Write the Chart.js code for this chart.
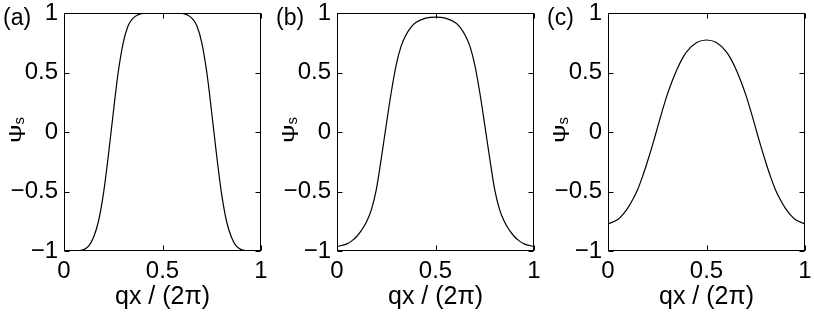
<!DOCTYPE html>
<html>
<head>
<meta charset="utf-8">
<script src="https://cdn.jsdelivr.net/npm/chart.js@4/dist/chart.umd.min.js"></script>
<style>
  body { margin: 0; background: #fff; }
  #wrap { position: relative; width: 814px; height: 318px; overflow: hidden; }
  #wrap canvas { position: absolute; top: 0; }
</style>
</head>
<body>
<div id="wrap">
  <canvas id="panelA" width="271" height="318" style="left:0px"></canvas>
  <canvas id="panelB" width="271" height="318" style="left:273px"></canvas>
  <canvas id="panelC" width="271" height="318" style="left:544px"></canvas>
</div>
<script>
// qx / (2pi) sample positions (shared by the three panels)
const qx = [0, 0.05, 0.075, 0.1, 0.125, 0.15, 0.175, 0.2, 0.225, 0.25, 0.275, 0.3, 0.325, 0.35, 0.375, 0.4, 0.45,
            0.5,
            0.55, 0.6, 0.625, 0.65, 0.675, 0.7, 0.725, 0.75, 0.775, 0.8, 0.825, 0.85, 0.875, 0.9, 0.925, 0.95, 1];

// psi_s
const psiA = [-1, -1, -0.997, -0.988, -0.96, -0.885, -0.75, -0.52, -0.2, 0.16, 0.5, 0.745, 0.89, 0.955, 0.984, 0.997, 1,
              1,
              1, 0.997, 0.984, 0.955, 0.89, 0.745, 0.5, 0.16, -0.2, -0.52, -0.75, -0.885, -0.96, -0.988, -0.997, -1, -1];
const psiB = [-0.962, -0.94, -0.915, -0.878, -0.825, -0.755, -0.65, -0.48, -0.22, 0.06, 0.33, 0.56, 0.72, 0.815, 0.88, 0.92, 0.957,
              0.966,
              0.957, 0.92, 0.88, 0.815, 0.72, 0.56, 0.33, 0.06, -0.22, -0.48, -0.65, -0.755, -0.825, -0.878, -0.915, -0.94, -0.962];
const psiC = [-0.773, -0.735, -0.695, -0.64, -0.57, -0.485, -0.375, -0.25, -0.115, 0.03, 0.175, 0.31, 0.425, 0.525, 0.61, 0.675, 0.752,
              0.773,
              0.752, 0.675, 0.61, 0.525, 0.425, 0.31, 0.175, 0.03, -0.115, -0.25, -0.375, -0.485, -0.57, -0.64, -0.695, -0.735, -0.773];

const xTicks = [0, 0.5, 1];
const yTicks = [-1, -0.5, 0, 0.5, 1];
const panelLabels = ['(a)', '(b)', '(c)'];

const FONT = '"Liberation Sans", Arial, Helvetica, sans-serif';

function fmt(v) {
    return String(v).replace('-', '\u2212');
}

// box round the axes + inward ticks on all four sides, y title and panel letter
const framePlugin = {
    id: 'frame',
    afterDraw(chart, args, opts) {
        const ctx = chart.ctx;
        const a = chart.chartArea;
        const xs = chart.scales.x, ys = chart.scales.y;
        const L = Math.round(a.left) + 0.5, R = Math.round(a.right) - 0.5;
        const T = Math.round(a.top) + 0.5, B = Math.round(a.bottom) - 0.5;
        const len = 5;
        ctx.save();
        ctx.strokeStyle = '#000';
        ctx.lineWidth = 1;
        ctx.strokeRect(L, T, R - L, B - T);
        ctx.beginPath();
        xTicks.forEach(v => {
            const px = Math.round(xs.getPixelForValue(v)) + 0.5;
            ctx.moveTo(px, B); ctx.lineTo(px, B - len);
            ctx.moveTo(px, T); ctx.lineTo(px, T + len);
        });
        yTicks.forEach(v => {
            const py = Math.round(ys.getPixelForValue(v)) + 0.5;
            ctx.moveTo(L, py); ctx.lineTo(L + len, py);
            ctx.moveTo(R, py); ctx.lineTo(R - len, py);
        });
        ctx.stroke();

        // y title: psi with subscript s
        ctx.fillStyle = '#000';
        ctx.translate(21, (a.top + a.bottom) / 2);
        ctx.rotate(-Math.PI / 2);
        ctx.textBaseline = 'alphabetic';
        ctx.textAlign = 'left';
        ctx.font = '18px ' + FONT;
        const sx = 1.45;
        const w1 = ctx.measureText('\u03c8').width * sx;
        ctx.font = '15px ' + FONT;
        const w2 = ctx.measureText('s').width;
        const x0 = -(w1 + w2) / 2 + 2;
        ctx.save();
        ctx.translate(x0, 0);
        ctx.scale(sx, 1);
        ctx.font = '18px ' + FONT;
        ctx.fillText('\u03c8', 0, 0);
        ctx.restore();
        ctx.font = '15px ' + FONT;
        ctx.fillText('s', x0 + w1, 3);
        ctx.restore();

        ctx.save();
        ctx.fillStyle = '#000';
        ctx.font = '23px ' + FONT;
        ctx.textBaseline = 'alphabetic';
        ctx.fillText(opts.label, 3, 25);
        ctx.restore();
    }
};

function makePanel(id, values, label) {
    new Chart(document.getElementById(id), {
        type: 'line',
        data: {
            datasets: [{
                data: qx.map((x, i) => ({ x: x, y: values[i] })),
                borderColor: '#000',
                borderWidth: 1.2,
                pointRadius: 0,
                cubicInterpolationMode: 'monotone',
                fill: false
            }]
        },
        options: {
            responsive: false,
            animation: false,
            devicePixelRatio: 1,
            layout: { padding: { top: 13, right: 10, left: 0, bottom: 0 } },
            plugins: {
                legend: { display: false },
                tooltip: { enabled: false },
                frame: { label: label }
            },
            scales: {
                x: {
                    type: 'linear',
                    min: 0,
                    max: 1,
                    afterBuildTicks: s => { s.ticks = xTicks.map(v => ({ value: v })); },
                    afterFit: s => { s.height = 67; s.paddingLeft = 0; s.paddingRight = 0; },
                    grid: { display: false, drawTicks: false },
                    border: { display: false },
                    ticks: {
                        color: '#000',
                        padding: 8,
                        maxRotation: 0,
                        autoSkip: false,
                        font: { family: FONT, size: 24, lineHeight: 1 },
                        callback: v => fmt(v)
                    },
                    title: {
                        display: true,
                        text: 'qx / (2\u03c0)',
                        color: '#000',
                        font: { family: FONT, size: 25, lineHeight: 1.2 },
                        padding: { top: 0, bottom: 6 }
                    }
                },
                y: {
                    type: 'linear',
                    min: -1,
                    max: 1,
                    afterBuildTicks: s => { s.ticks = yTicks.map(v => ({ value: v })); },
                    afterFit: s => { s.width = 64; s.paddingTop = 0; s.paddingBottom = 0; },
                    grid: { display: false, drawTicks: false },
                    border: { display: false },
                    ticks: {
                        color: '#000',
                        padding: 6,
                        autoSkip: false,
                        font: { family: FONT, size: 24, lineHeight: 1 },
                        callback: v => fmt(v)
                    }
                }
            }
        },
        plugins: [framePlugin]
    });
}

makePanel('panelA', psiA, panelLabels[0]);
makePanel('panelB', psiB, panelLabels[1]);
makePanel('panelC', psiC, panelLabels[2]);
</script>
</body>
</html>
